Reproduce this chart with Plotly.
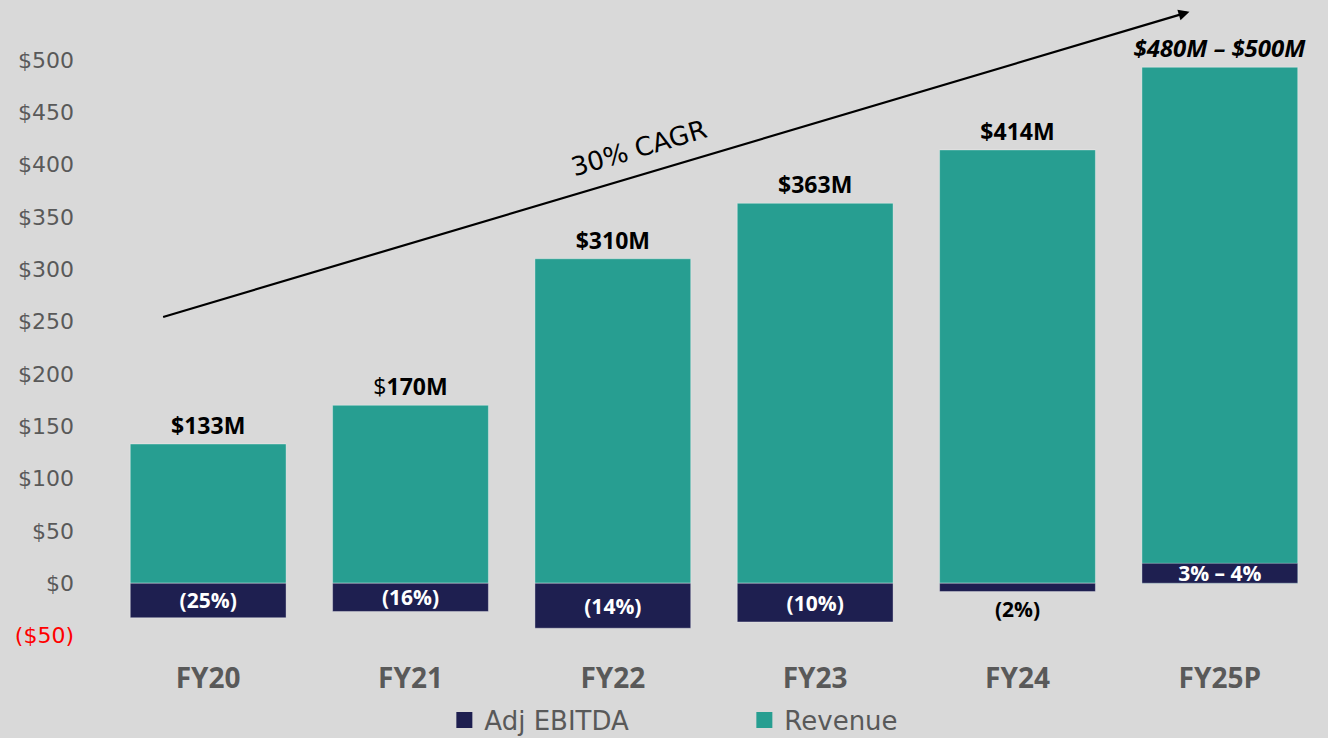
import plotly.graph_objects as go

categories = ["FY20", "FY21", "FY22", "FY23", "FY24", "FY25P"]
revenue = [133, 170, 310, 363, 414, 493]
adj_ebitda = [-33, -27, -43, -37, -8, 19]
revenue_labels = ["$133M", "<span style='font-weight:normal'>$</span>170M", "$310M", "$363M", "$414M",
                  "<i>$480M – $500M</i>"]
revenue_label_sizes = [23, 23, 23, 23, 23, 24]
ebitda_labels = ["(25%)", "(16%)", "(14%)", "(10%)", "(2%)", "3% – 4%"]
ebitda_textpos = ["inside", "inside", "inside", "inside", "outside", "inside"]
y_tickvals = [-50, 0, 50, 100, 150, 200, 250, 300, 350, 400, 450, 500]
y_ticktext = ["<span style='color:#ff0000'>($50)</span>", "$0", "$50", "$100", "$150", "$200",
              "$250", "$300", "$350", "$400", "$450", "$500"]
legend_names = ["Adj EBITDA", "Revenue"]

# CAGR arrow (category index, value)
cagr_start = (-0.23, 254)
cagr_end = (4.85, 546)
cagr_label_pos = (2.13, 416)

BG = "#d9d9d9"
TEAL = "#279e91"
NAVY = "#1e1f50"
FONT = "Open Sans"
WIDE = "DejaVu Sans"

fig = go.Figure()
fig.add_trace(go.Bar(
    x=categories, y=revenue, name="Revenue",
    marker=dict(color=TEAL, line=dict(color="rgba(255,255,255,0.35)", width=1)),
    width=0.77, text=revenue_labels, textposition="outside",
    textfont=dict(family=FONT, size=revenue_label_sizes, color="#000000", weight="bold"),
    cliponaxis=False, constraintext="none", showlegend=False,
))
fig.add_trace(go.Bar(
    x=categories, y=adj_ebitda, name="Adj EBITDA",
    marker=dict(color=NAVY, line=dict(color="rgba(255,255,255,0.35)", width=1)),
    width=0.77, text=ebitda_labels, textposition=ebitda_textpos,
    insidetextanchor="middle",
    insidetextfont=dict(family=FONT, size=21, color="#ffffff", weight="bold"),
    outsidetextfont=dict(family=FONT, size=21, color="#000000", weight="bold"),
    cliponaxis=False, constraintext="none", showlegend=False,
))
# legend swatches (square markers)
for name, color in zip(legend_names, [NAVY, TEAL]):
    fig.add_trace(go.Scatter(
        x=[None], y=[None], mode="markers", name=name,
        marker=dict(symbol="square", size=17, color=color),
        showlegend=True, hoverinfo="skip",
    ))

fig.add_annotation(
    x=cagr_end[0], y=cagr_end[1], ax=cagr_start[0], ay=cagr_start[1],
    xref="x", yref="y", axref="x", ayref="y",
    showarrow=True, arrowhead=2, arrowsize=1, arrowwidth=2.2, arrowcolor="#000000", text="",
)
fig.add_annotation(
    x=cagr_label_pos[0], y=cagr_label_pos[1], xref="x", yref="y",
    text="30% CAGR", showarrow=False, textangle=-16.5,
    font=dict(family=WIDE, size=26, color="#000000"),
)

fig.update_layout(
    width=1328, height=738,
    paper_bgcolor=BG, plot_bgcolor=BG,
    barmode="overlay",
    margin=dict(l=107, r=7, t=39, b=92, autoexpand=False),
    showlegend=True,
    legend=dict(orientation="h", x=0.525, xanchor="center", y=0.0244, yanchor="middle",
                yref="container", itemsizing="trace",
                font=dict(family=WIDE, size=26, color="#595959"),
                entrywidth=255, entrywidthmode="pixels", bgcolor="rgba(0,0,0,0)"),
    font=dict(family=FONT),
    xaxis=dict(showgrid=False, zeroline=False, showline=False, ticks="",
               tickfont=dict(family=FONT, size=28, color="#595959", weight="bold"),
               ticklabelstandoff=13),
    yaxis=dict(range=[-60, 520], showgrid=False, zeroline=False, showline=False, ticks="",
               tickvals=y_tickvals, ticktext=y_ticktext,
               tickfont=dict(family=WIDE, size=22, color="#595959"),
               ticklabelstandoff=32),
)

fig.write_html("out.html")
